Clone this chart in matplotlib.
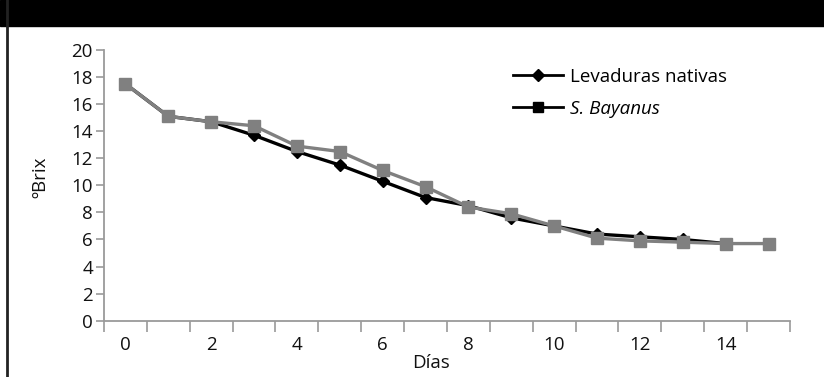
import numpy as np
import matplotlib
matplotlib.use("Agg")
import matplotlib.pyplot as plt
from matplotlib.lines import Line2D
from matplotlib.patches import Rectangle

plt.rcParams['font.family'] = ['Open Sans', 'DejaVu Sans']

# datos
dias = list(range(16))
nativas = [17.5, 15.1, 14.7, 13.7, 12.5, 11.5, 10.3, 9.1, 8.5, 7.6, 7.0, 6.4, 6.2, 6.0, 5.7]
bayanus = [17.5, 15.1, 14.7, 14.4, 12.9, 12.5, 11.1, 9.9, 8.4, 7.9, 7.0, 6.1, 5.9, 5.8, 5.7, 5.7]
etiquetas_x = [0, 2, 4, 6, 8, 10, 12, 14]
etiquetas_y = list(range(0, 21, 2))

fig = plt.figure(figsize=(8.24, 3.77), dpi=100)
ax = fig.add_axes([0.1262, 0.1493, 0.8325, 0.7181])

gris = '#808080'
eje = '#9a9a9a'
texto = '#111111'
fs = 13.5

ax.plot(dias[:len(nativas)], nativas, color='black', lw=2.4, marker='D', ms=6.5,
        mfc='black', mec='black', zorder=3)
ax.plot(dias, bayanus, color=gris, lw=2.4, marker='s', ms=8.5,
        mfc=gris, mec=gris, zorder=4)

ax.set_xlim(-0.5, 15.5)
ax.set_ylim(0, 20)
ax.set_yticks(etiquetas_y)
ax.set_xticks(etiquetas_x)
ax.set_xticks(np.arange(-0.5, 16, 1), minor=True)

for s in ['top', 'right']:
    ax.spines[s].set_visible(False)
for s in ['left', 'bottom']:
    ax.spines[s].set_color(eje)
    ax.spines[s].set_linewidth(1.3)

ax.tick_params(axis='y', which='major', direction='out', length=6, width=1.2,
               color=eje, labelsize=fs, labelcolor=texto, pad=2)
ax.tick_params(axis='x', which='major', length=0, labelsize=fs,
               labelcolor=texto, pad=11)
ax.tick_params(axis='x', which='minor', direction='out', length=8, width=1.2,
               color=eje)

ax.set_xlabel('Días', fontsize=fs, color=texto, x=0.477, labelpad=0)
ax.set_ylabel('ºBrix', fontsize=fs, color=texto, y=0.531, labelpad=16)

handles = [Line2D([], [], color='black', lw=2, marker='D', ms=6),
           Line2D([], [], color='black', lw=2, marker='s', ms=7)]
leg = fig.legend(handles, ['Levaduras nativas', 'S. Bayanus'],
                 loc='upper left', bbox_to_anchor=(0.622, 0.82),
                 frameon=False, fontsize=fs, handlelength=2.7,
                 handletextpad=0.35, labelspacing=0.75, borderpad=0,
                 borderaxespad=0)
leg.get_texts()[1].set_fontstyle('italic')

# franja negra arriba y borde izquierdo
fig.patches.append(Rectangle((0, 1 - 26 / 377), 1, 26 / 377, transform=fig.transFigure,
                             color='black', zorder=0))
fig.add_artist(Line2D([7 / 824, 7 / 824], [0, 1], transform=fig.transFigure,
                      color='#222222', lw=2))

fig.savefig('out.png', dpi=100)
